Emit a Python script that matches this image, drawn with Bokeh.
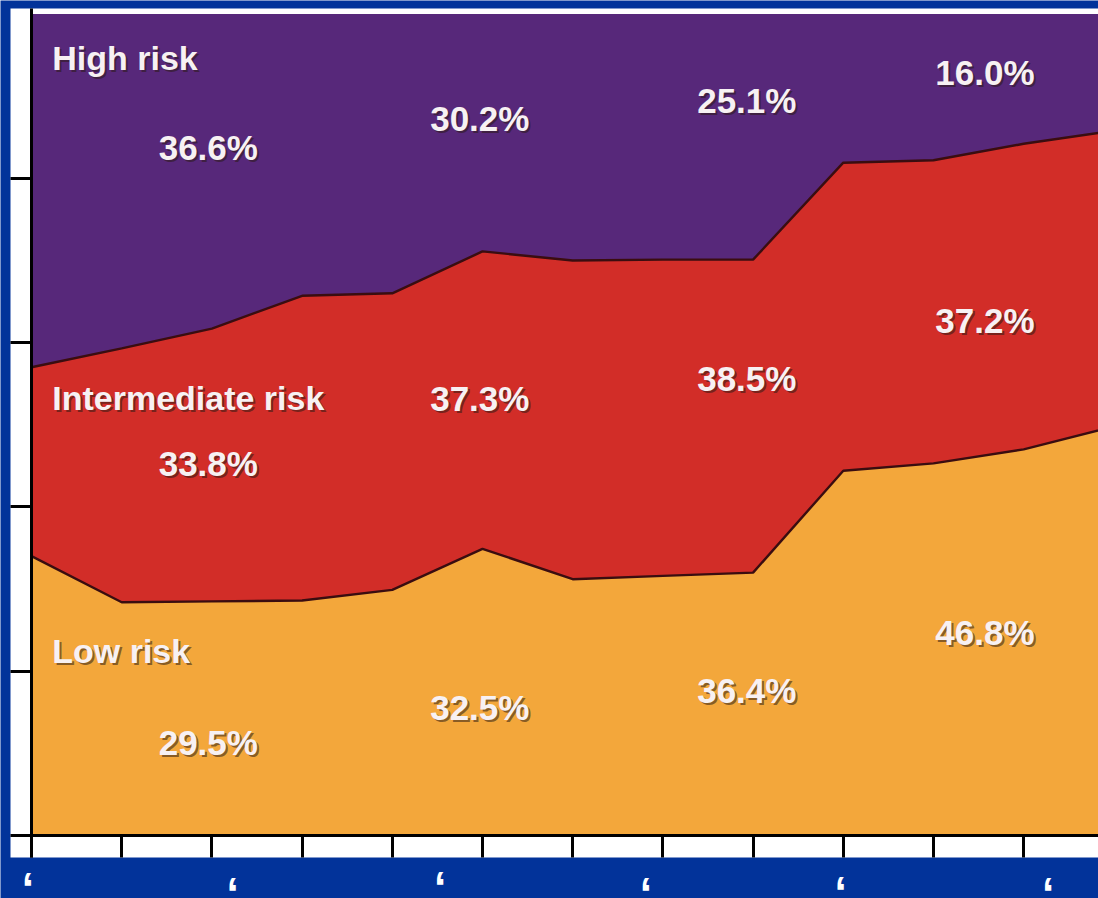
from bokeh.plotting import figure
from bokeh.models import (ColumnDataSource, FixedTicker, LinearAxis, Range1d,
                          BoxAnnotation)
from bokeh.core.properties import value
from bokeh.embed import file_html
from bokeh.resources import INLINE

# Yearly positions along the time axis
years = list(range(13))

# Share of patients in each risk band, per year (%)
low_risk = [34.0, 28.4, 28.5, 28.6, 29.9, 34.9, 31.2, 31.6, 32.0, 44.4, 45.3, 47.0, 49.8]
intermediate_risk = [23.0, 30.9, 33.2, 37.1, 36.1, 36.2, 38.8, 38.5, 38.1, 37.5, 36.9, 37.2, 36.0]
high_risk = [43.0, 40.7, 38.3, 34.3, 34.0, 28.9, 30.0, 29.9, 29.9, 18.1, 17.8, 15.8, 14.2]

# Period averages written inside the bands (%)
period_low = [29.5, 32.5, 36.4, 46.8]
period_intermediate = [33.8, 37.3, 38.5, 37.2]
period_high = [36.6, 30.2, 25.1, 16.0]

band_names = ["High risk", "Intermediate risk", "Low risk"]
year_marks = ["\u2018"] * 6
y_ticks = [0, 20, 40, 60, 80]

# ---- layout of the annotations (data coordinates) ----
period_x = [1.41, 4.42, 7.38, 10.02]
high_y = [83.7, 87.3, 89.5, 92.9]
inter_y = [45.3, 53.2, 55.6, 62.7]
low_y = [11.3, 15.6, 17.7, 24.7]
band_label_x = 0.23
band_label_y = [94.7, 53.2, 22.5]
mark_x = [-0.04, 2.23, 4.53, 6.81, 8.97, 11.27]
mark_y = [-3.47, -4.08, -3.35, -4.08, -3.96, -4.08]

BLUE = "#02339a"
PURPLE = "#57287a"
RED = "#d22d28"
ORANGE = "#f3a73b"
EDGE = "#3a0d10"
INK = "#f7f1f3"
SHADOW = "#2a1a12"

# the frame fills the whole page; the chart sits on a white card inside it
PX_X = 90.2     # pixels per year
PX_Y = 8.215    # pixels per percentage point
X_START, X_END = -31 / PX_X, 1067 / PX_X
Y_START, Y_END = -63 / PX_Y, 835 / PX_Y
CARD_LEFT, CARD_BOTTOM, CARD_TOP = -21 / PX_X, -22 / PX_Y, 827 / PX_Y

p = figure(
    width=1098, height=898,
    x_range=Range1d(X_START, X_END), y_range=Range1d(Y_START, Y_END),
    x_axis_type=None, y_axis_type=None,
    output_backend="svg", toolbar_location=None,
    min_border_left=0, min_border_right=0, min_border_top=0, min_border_bottom=0,
)
p.border_fill_color = BLUE
p.background_fill_color = BLUE
p.outline_line_color = None
p.grid.visible = False

p.add_layout(BoxAnnotation(left=CARD_LEFT, right=X_END, bottom=CARD_BOTTOM, top=CARD_TOP,
                           fill_color="white", fill_alpha=1, line_color=None,
                           level="underlay"))

# stacked bands
src = ColumnDataSource(dict(x=years, low=low_risk, inter=intermediate_risk, high=high_risk))
p.varea_stack(["low", "inter", "high"], x="x", color=[ORANGE, RED, PURPLE], source=src)

# dark outlines along the band boundaries
c1 = low_risk
c2 = [a + b for a, b in zip(low_risk, intermediate_risk)]
p.line(years, c1, line_color=EDGE, line_width=2.4)
p.line(years, c2, line_color=EDGE, line_width=2.4)

# axes: plain tick marks, no numbers
xa = LinearAxis(fixed_location=0, ticker=FixedTicker(ticks=years[:12]),
                bounds=(0, X_END), major_tick_out=22)
ya = LinearAxis(fixed_location=0, ticker=FixedTicker(ticks=y_ticks),
                bounds=(CARD_BOTTOM, CARD_TOP), major_tick_out=21)
for ax in (xa, ya):
    ax.axis_line_color = "black"
    ax.axis_line_width = 3
    ax.major_tick_line_color = "black"
    ax.major_tick_line_width = 3
    ax.major_tick_in = 0
    ax.minor_tick_line_color = None
    ax.major_label_text_font_size = "0px"
    ax.major_label_text_color = None
    ax.major_label_standoff = 0
p.add_layout(xa, "below")
p.add_layout(ya, "left")


def labelled(xs, ys, texts, size):
    s = ColumnDataSource(dict(x=xs, y=ys, t=texts))
    common = dict(x="x", y="y", text="t", text_font=value("Liberation Sans"),
                  text_font_style="bold", text_font_size=size,
                  text_align="left", text_baseline="middle", source=s)
    p.text(text_color=SHADOW, text_alpha=0.55, x_offset=2, y_offset=2, **common)
    p.text(text_color=INK, **common)


fmt = lambda v: f"{v:.1f}%"
labelled(period_x, high_y, [fmt(v) for v in period_high], "35px")
labelled(period_x, inter_y, [fmt(v) for v in period_intermediate], "35px")
labelled(period_x, low_y, [fmt(v) for v in period_low], "35px")
labelled([band_label_x] * 3, band_label_y, band_names, "34px")

# year marks under the time axis
p.text(x=mark_x, y=mark_y, text=year_marks, text_color="white",
       text_font=value("Liberation Sans"), text_font_style="bold",
       text_font_size="44px", text_align="center", text_baseline="top")

open("out.html", "w").write(file_html(p, INLINE))
